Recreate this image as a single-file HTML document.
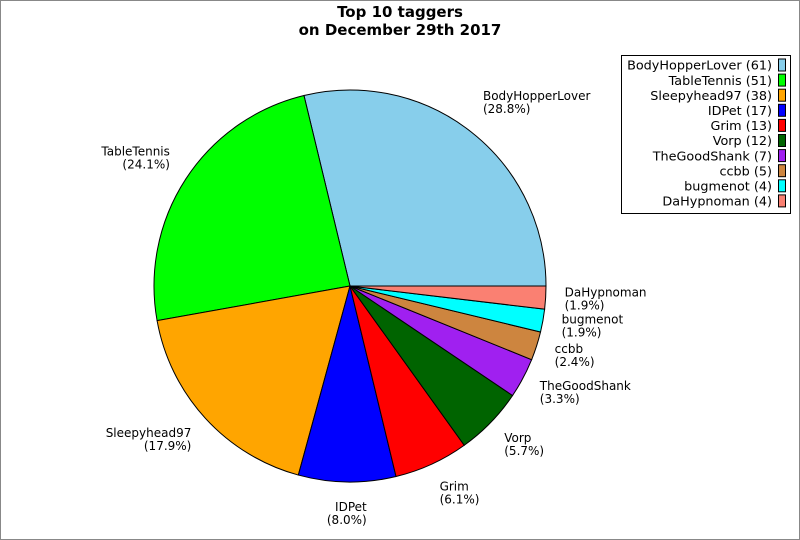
<!DOCTYPE html>
<html><head><meta charset="utf-8"><style>
html,body{margin:0;padding:0;background:#fff}
svg{display:block}
text{font-family:"DejaVu Sans","Liberation Sans",sans-serif;font-size:12px;fill:#000}
</style></head><body>
<svg id="chart" width="800" height="540" xmlns="http://www.w3.org/2000/svg">
<rect x="0.5" y="0.5" width="799" height="539" fill="#fff" stroke="#888"/>
<text x="400" y="17" text-anchor="middle" style="font-size:15px;font-weight:bold">Top 10 taggers</text>
<text x="400" y="35" text-anchor="middle" style="font-size:15px;font-weight:bold">on December 29th 2017</text>
<g id="slices"></g><g id="labels"></g>
<rect x="621.5" y="55.5" width="169" height="158" fill="#fff" stroke="#000"/>
<g id="legend"></g>
</svg>
<script>
const names = ["BodyHopperLover","TableTennis","Sleepyhead97","IDPet","Grim","Vorp","TheGoodShank","ccbb","bugmenot","DaHypnoman"];
const counts = [61,51,38,17,13,12,7,5,4,4];
const colors = ["#87ceeb","#00ff00","#ffa500","#0000ff","#ff0000","#006400","#a020f0","#cd853f","#00ffff","#fa8072"];
const NS="http://www.w3.org/2000/svg";
const cx=350, cy=286, R=196, LR=215, LH=13;
const total=counts.reduce((a,b)=>a+b,0);
const gs=document.getElementById('slices'), gl=document.getElementById('labels'), gg=document.getElementById('legend');
let a0=0;
counts.forEach((c,i)=>{
  const a1=a0+c/total*2*Math.PI;
  const x0=cx+R*Math.cos(a0), y0=cy-R*Math.sin(a0), x1=cx+R*Math.cos(a1), y1=cy-R*Math.sin(a1);
  const p=document.createElementNS(NS,'path');
  p.setAttribute('d',`M${cx},${cy} L${x0},${y0} A${R},${R} 0 ${a1-a0>Math.PI?1:0} 0 ${x1},${y1} Z`);
  p.setAttribute('fill',colors[i]);p.setAttribute('stroke','#000');p.setAttribute('stroke-width','1');
  
  
  gs.appendChild(p);
  const m=(a0+a1)/2, co=Math.cos(m), si=Math.sin(m);
  const px=cx+LR*co, py=cy-LR*si;
  const top=py-LH-LH*si*(si>0?1.4:1.0);
  const t=document.createElementNS(NS,'text');
  
  
  const s1=document.createElementNS(NS,'tspan');s1.setAttribute('y',top+10);s1.textContent=names[i];
  const s2=document.createElementNS(NS,'tspan');s2.setAttribute('y',top+23);s2.textContent='('+(c/total*100).toFixed(1)+'%)';
  t.appendChild(s1);t.appendChild(s2);gl.appendChild(t);
  const w=Math.max(s1.getComputedTextLength(),s2.getComputedTextLength());
  let left;
  if(co>0.1) left=px; else if(co<-0.1) left=px-w; else left=px-w/2;
  if(co>=0){t.setAttribute('text-anchor','start');s1.setAttribute('x',left);s2.setAttribute('x',left);}
  else{t.setAttribute('text-anchor','end');s1.setAttribute('x',left+w);s2.setAttribute('x',left+w);}
  a0=a1;
});
names.forEach((n,i)=>{
  const y=65+i*15.1;
  const t=document.createElementNS(NS,'text');
  t.setAttribute('x',772);t.setAttribute('y',y+4.7);t.setAttribute('text-anchor','end');
  t.setAttribute('style','font-size:12.8px');
  t.textContent=n+' ('+counts[i]+')';
  
  
  gg.appendChild(t);
  const r=document.createElementNS(NS,'rect');
  r.setAttribute('x',778.5);r.setAttribute('y',y-6);r.setAttribute('width',7);r.setAttribute('height',12);
  r.setAttribute('fill',colors[i]);r.setAttribute('stroke','#000');
  
  
  gg.appendChild(r);
});
</script>
</body></html>
